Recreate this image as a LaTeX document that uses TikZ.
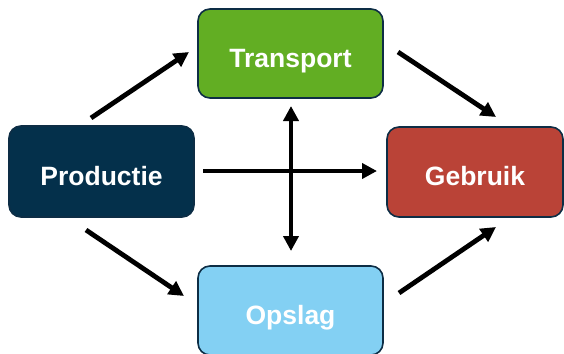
\documentclass[tikz,border=0pt]{standalone}
\usepackage{fontspec}
\setmainfont{Liberation Sans}
\usetikzlibrary{arrows.meta}
\definecolor{cgreen}{HTML}{62AE23}
\definecolor{cnavy}{HTML}{04304B}
\definecolor{cred}{HTML}{BA4337}
\definecolor{cblue}{HTML}{83D0F3}
\definecolor{cborder}{HTML}{0D2D45}
\tikzset{
  box/.style={rectangle, rounded corners=12pt, draw=cborder, line width=1.6pt,
    text=white, font=\fontsize{26.5}{30}\selectfont\bfseries,
    text height=27pt, text depth=0pt, align=center, inner sep=0pt},
  arr/.style={line width=4.8pt, -{Triangle[length=15pt,width=15pt]}},
  darr/.style={line width=4.8pt, {Triangle[length=15pt,width=15pt]}-{Triangle[length=15pt,width=15pt]}}
}
\begin{document}
\begin{tikzpicture}[x=1pt,y=-1pt]
\useasboundingbox (0,0) rectangle (564,353);
\node[box, fill=cgreen, minimum width=185pt, minimum height=89pt] (transport) at (290.5,53.5) {Transport};
\node[box, fill=cnavy, minimum width=185pt, minimum height=91pt] (productie) at (101.5,171.5) {Productie};
\node[box, fill=cred, minimum width=176pt, minimum height=90pt] (gebruik) at (475,172) {Gebruik};
\node[box, fill=cblue, minimum width=185pt, minimum height=89pt] (opslag) at (290.5,310.5) {Opslag};

\coordinate (pt1) at (91,118);   \coordinate (pt2) at (189,52);
\coordinate (tg1) at (398,52);   \coordinate (tg2) at (496,117);
\coordinate (pg1) at (203,171);  \coordinate (pg2) at (377,171);
\coordinate (to1) at (291,106);  \coordinate (to2) at (291,251);
\coordinate (po1) at (86,230);   \coordinate (po2) at (184,296);
\coordinate (og1) at (399,293);  \coordinate (og2) at (496,227);

\draw[arr] (pt1) -- (pt2);
\draw[arr] (tg1) -- (tg2);
\draw[darr] (to1) -- (to2);
\draw[arr] (pg1) -- (pg2);
\draw[arr] (po1) -- (po2);
\draw[arr] (og1) -- (og2);
\end{tikzpicture}
\end{document}
